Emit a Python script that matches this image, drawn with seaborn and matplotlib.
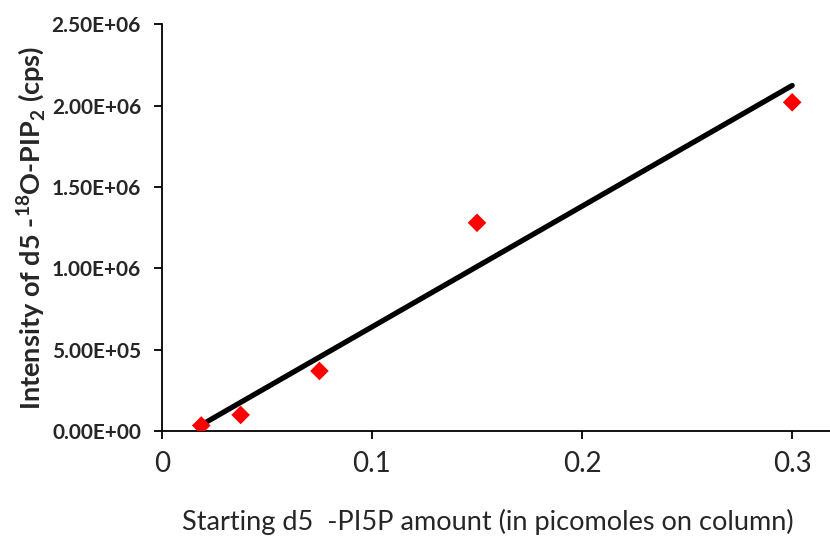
import matplotlib
matplotlib.use("Agg")
import matplotlib.pyplot as plt
import numpy as np
import pandas as pd
import seaborn as sns

# starting amount (picomoles on column) and measured intensity (cps)
amount_pmol = [0.01875, 0.0375, 0.075, 0.15, 0.3]
intensity_cps = [3.5e4, 1.0e5, 3.7e5, 1.28e6, 2.02e6]

x_ticks = [0, 0.1, 0.2, 0.3]
x_tick_labels = ["0", "0.1", "0.2", "0.3"]
y_ticks = [0, 5e5, 1e6, 1.5e6, 2e6, 2.5e6]
y_tick_labels = ["0.00E+00", "5.00E+05", "1.00E+06", "1.50E+06", "2.00E+06", "2.50E+06"]

df = pd.DataFrame({"amount": amount_pmol, "intensity": intensity_cps})

sns.set_theme(style="white")
plt.rcParams["font.family"] = ["Lato", "DejaVu Sans"]
plt.rcParams["mathtext.fontset"] = "custom"
plt.rcParams["mathtext.rm"] = "Lato:bold"
plt.rcParams["mathtext.bf"] = "Lato:bold"

fig = plt.figure(figsize=(8.3, 5.37), dpi=100)
ax = fig.add_axes([0.195, 0.197, 0.805, 0.758])

# linear trend line across the data range
sns.regplot(data=df, x="amount", y="intensity", ax=ax, scatter=False, ci=None,
            truncate=True, line_kws=dict(color="black", lw=3.8, solid_capstyle="round"))
sns.scatterplot(data=df, x="amount", y="intensity", ax=ax, marker="D", s=90,
                color="#ff0000", edgecolor="none", zorder=3)

ax.set_xlim(0, 0.318)
ax.set_ylim(0, 2.5e6)
ax.set_xticks(x_ticks)
ax.set_xticklabels(x_tick_labels, fontsize=20)
ax.set_yticks(y_ticks)
ax.set_yticklabels(y_tick_labels, fontsize=15, fontweight="bold")

ax.tick_params(axis="both", direction="out", length=6, width=1.3, color="black",
               bottom=True, left=True)
ax.tick_params(axis="x", pad=8)
ax.tick_params(axis="y", pad=9)

for side in ["top", "right"]:
    ax.spines[side].set_visible(False)
for side in ["left", "bottom"]:
    ax.spines[side].set_color("black")
    ax.spines[side].set_linewidth(1.3)

ax.set_xlabel("Starting d5  -PI5P amount (in picomoles on column)", fontsize=19.5)
ax.xaxis.set_label_coords(0.488, -0.19)
ax.set_ylabel(r"Intensity of d5 -$^{18}$O-PIP$_2$ (cps)", fontsize=19.5,
              fontweight="bold")
ax.yaxis.set_label_coords(-0.17, 0.5)

fig.savefig("out.png", dpi=100)
